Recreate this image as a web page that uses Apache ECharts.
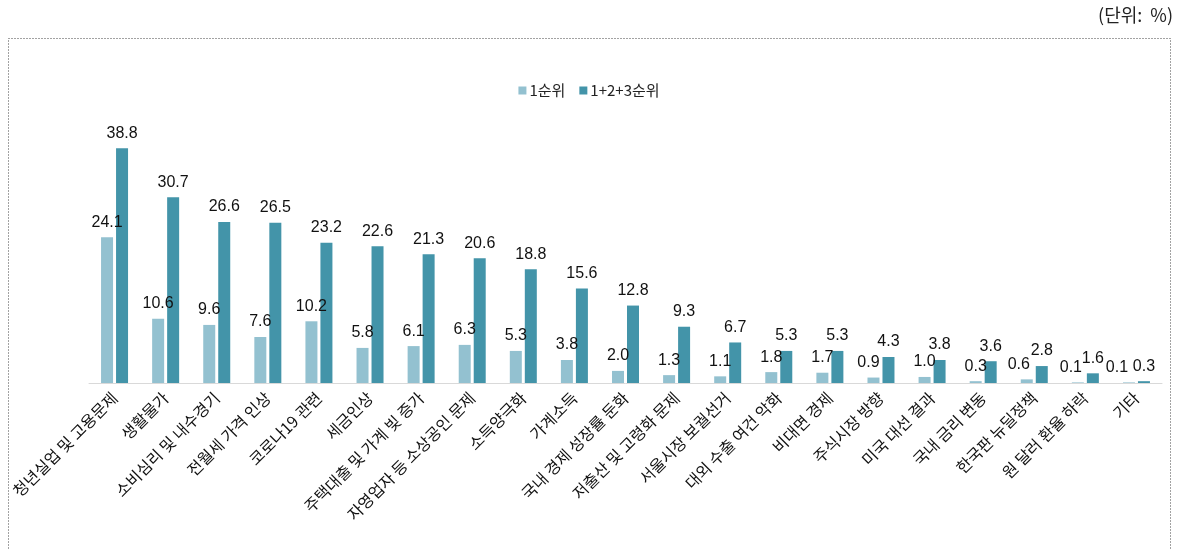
<!DOCTYPE html>
<html>
<head>
<meta charset="utf-8">
<script src="https://cdn.jsdelivr.net/npm/echarts@6/dist/echarts.min.js"></script>
<style>
html,body{margin:0;padding:0;background:#fff;}
#c{width:1178px;height:549px;}
</style>
</head>
<body>
<div id="c"></div>
<script>
const categories = ['청년실업 및 고용문제','생활물가','소비심리 및 내수경기','전월세 가격 인상','코로나19 관련','세금인상','주택대출 및 가계 빚 증가','자영업자 등 소상공인 문제','소득양극화','가계소득','국내 경제 성장률 둔화','저출산 및 고령화 문제','서울시장 보궐선거','대외 수출 여건 악화','비대면 경제','주식시장 방향','미국 대선 결과','국내 금리 변동','한국판 뉴딜정책','원 달러 환율 하락','기타'];
const rank1 = [24.1,10.6,9.6,7.6,10.2,5.8,6.1,6.3,5.3,3.8,2.0,1.3,1.1,1.8,1.7,0.9,1.0,0.3,0.6,0.1,0.1];
const rank123 = [38.8,30.7,26.6,26.5,23.2,22.6,21.3,20.6,18.8,15.6,12.8,9.3,6.7,5.3,5.3,4.3,3.8,3.6,2.8,1.6,0.3];
const seriesNames = ['1순위','1+2+3순위'];
const unitText = '(단위:  %)';

// horizontal nudges of a few crowded 1순위 labels (style only)
const labelNudge = {15:-5, 18:-8, 19:-7, 20:-12};

const font = '"Noto Sans CJK KR", "Noto Sans", sans-serif';
const numFont = '"Liberation Sans", Arial, sans-serif';
const chart = echarts.init(document.getElementById('c'));
const fmt = p => Number(p.value).toFixed(1);
const rank1Items = rank1.map((v, i) => labelNudge[i] !== undefined
  ? {value: v, label: {offset: [labelNudge[i], 0]}} : v);
chart.setOption({
  animation:false,
  textStyle:{fontFamily:font},
  graphic:[
    {type:'rect',shape:{x:8.5,y:38.5,width:1162,height:530},style:{fill:'none',stroke:'#444',lineWidth:1,lineDash:[1,2]}},
    {type:'text',right:5,top:6,style:{text:unitText,font:'18px '+font,fill:'#222'}}
  ],
  legend:{
    top:78,left:'center',itemWidth:8,itemHeight:8,itemGap:14,icon:'rect',
    textStyle:{fontSize:15,color:'#222',fontFamily:font,padding:[0,0,0,-2]},
    data:seriesNames
  },
  grid:{left:89,right:16,top:141,bottom:166},
  xAxis:{
    type:'category',data:categories,
    axisLine:{lineStyle:{color:'#d9d9d9',width:1}},
    axisTick:{show:false},
    axisLabel:{rotate:45,interval:0,fontSize:16,color:'#111',fontFamily:font,margin:12}
  },
  yAxis:{type:'value',min:0,max:40,show:false,splitLine:{show:false}},
  series:[
    {name:seriesNames[0],type:'bar',data:rank1Items,barWidth:12,barGap:'25%',
     itemStyle:{color:'#93c1d0'},
     label:{show:true,position:'top',distance:7,fontSize:16,color:'#111',fontFamily:numFont,formatter:fmt}},
    {name:seriesNames[1],type:'bar',data:rank123,barWidth:12,
     itemStyle:{color:'#4394a9'},
     label:{show:true,position:'top',distance:7,fontSize:16,color:'#111',fontFamily:numFont,formatter:fmt}}
  ]
});
</script>
</body>
</html>
